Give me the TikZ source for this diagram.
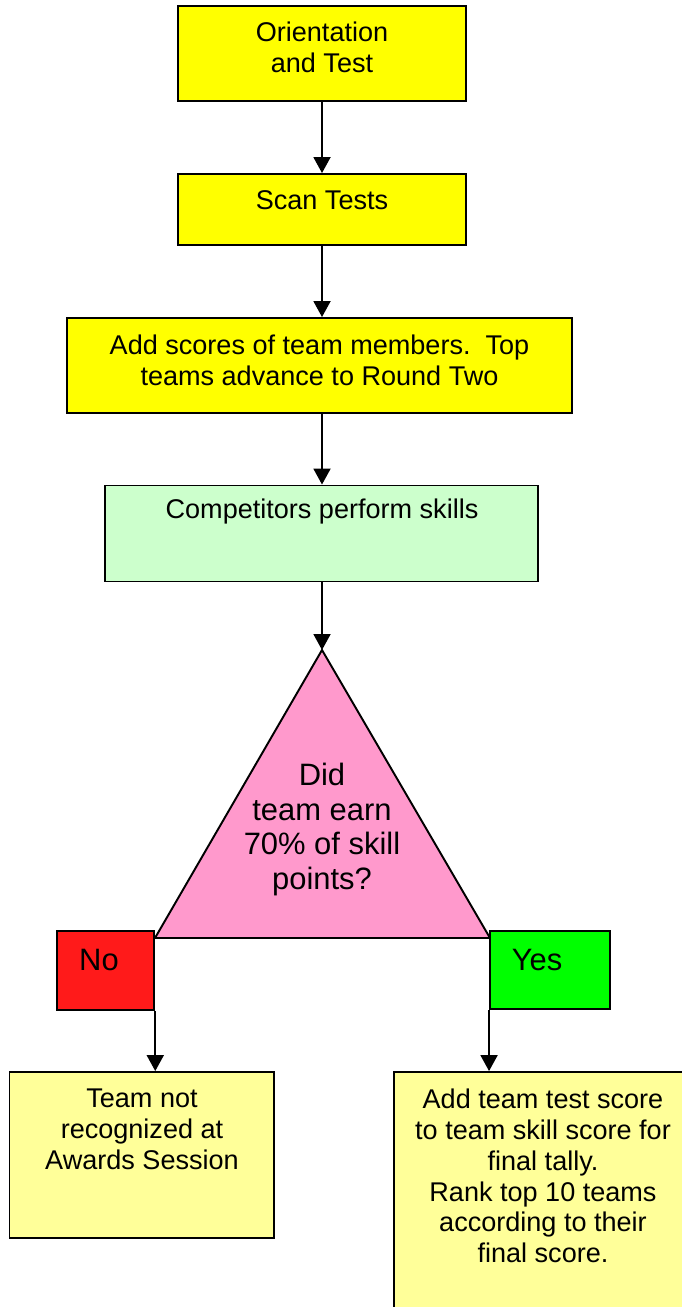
\documentclass[tikz,border=0pt]{standalone}
\usepackage{fontspec}
\setmainfont{Liberation Sans}
\usetikzlibrary{arrows.meta,positioning,calc}
\definecolor{stepyellow}{HTML}{FFFF00}
\definecolor{skillgreen}{HTML}{CCFFCC}
\definecolor{askpink}{HTML}{FF99CC}
\definecolor{nored}{HTML}{FF1A1A}
\definecolor{yesgreen}{HTML}{00FF00}
\definecolor{endyellow}{HTML}{FFFF99}

\begin{document}
\begin{tikzpicture}[
    x=0.02cm, y=-0.02cm,
    box/.style={draw=black, line width=1.1pt, inner sep=0pt},
    txt/.style={align=center, inner sep=0pt, font=\fontsize{15.4}{17.5}\selectfont},
    bigtxt/.style={align=center, inner sep=0pt, font=\fontsize{17.6}{19.9}\selectfont},
    arrow/.style={-{Triangle[width=0.34cm, length=0.32cm]}, line width=1.1pt}
]
\useasboundingbox (0,0) rectangle (682,1307);
\clip (0,0) rectangle (682,1307);

% first round
\node[box, fill=stepyellow, minimum width=5.76cm, minimum height=1.9cm] (orient) at (322,53.5) {};
\node[txt] (orientt) at (322,47.5) {Orientation\\and Test};
\node[box, fill=stepyellow, minimum width=5.76cm, minimum height=1.42cm] (scan) at (322,209.5) {};
\node[txt] (scant) at (322,200) {Scan Tests};
\node[box, fill=stepyellow, minimum width=10.1cm, minimum height=1.9cm] (addsc) at (319.5,365.5) {};
\node[txt] (addsct) at (319.5,360) {Add scores of team members.\ \ Top\\teams advance to Round Two};

% round two
\node[box, fill=skillgreen, minimum width=8.66cm, minimum height=1.92cm] (comp) at (321.5,533.5) {};
\node[txt] (compt) at (322,512) {Competitors perform skills};

% decision
\coordinate (apex) at (322,650);
\coordinate (bleft) at (155,938);
\coordinate (bright) at (490,938);
\draw[fill=askpink, line width=1.1pt, line join=miter] (apex) -- (bright) -- (bleft) -- cycle;
\node[bigtxt] (ask) at (322,829.5) {Did\\team earn\\70\% of skill\\points?};

\node[box, fill=nored, minimum width=1.94cm, minimum height=1.58cm] (no) at (105.8,970.5) {};
\node[bigtxt] (not) at (99,960) {No};
\node[box, fill=yesgreen, minimum width=2.4cm, minimum height=1.56cm] (yes) at (550,970) {};
\node[bigtxt] (yest) at (537,960) {Yes};

% outcomes
\node[box, fill=endyellow, minimum width=5.29cm, minimum height=3.32cm] (fail) at (141.7,1155) {};
\node[txt] (failt) at (142,1129.5) {Team not\\recognized at\\Awards Session};
\node[box, fill=endyellow, minimum width=5.96cm, minimum height=5.2cm] (tally) at (543,1202) {};
\node[txt] (tallyt) at (543,1176) {Add team test score\\to team skill score for\\final tally.\\Rank top 10 teams\\according to their\\final score.};

\draw[arrow] (orient.south) -- (scan.north);
\draw[arrow] (scan.south) -- (addsc.north -| scan.south);
\draw[arrow] (addsc.south -| scan.south) -- (comp.north -| scan.south);
\draw[arrow] (comp.south -| apex) -- (apex);
\draw[arrow] (no.south east) -- (no.south east |- fail.north);
\draw[arrow] (yes.south west) -- (yes.south west |- tally.north);
\end{tikzpicture}
\end{document}
